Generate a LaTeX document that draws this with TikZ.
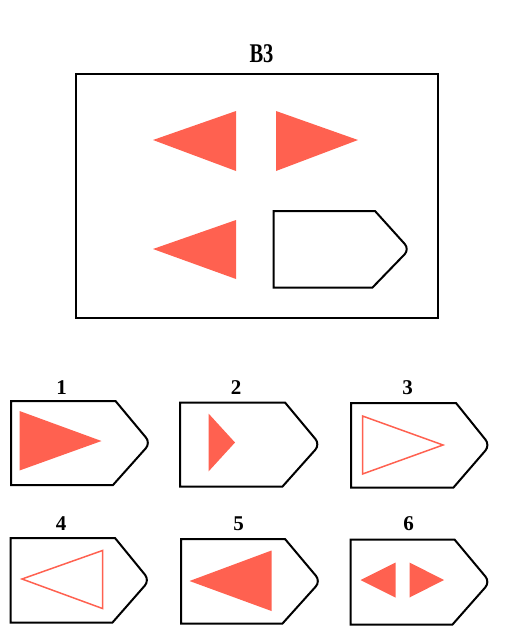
\documentclass[tikz,border=0pt]{standalone}
\usepackage{fontspec}
\setmainfont{Liberation Serif}
\usepackage{tikz}
\definecolor{coral}{RGB}{255,97,80}
\tikzset{
	frame/.style={draw=black,line width=1.3pt},
	flag/.style={draw=black,line width=2pt,line join=miter},
	solid tri/.style={fill=coral,draw=none},
	open tri/.style={draw=coral,line width=1.5pt,line join=miter},
	digit/.style={inner sep=0pt,font=\fontsize{21}{21}\selectfont\bfseries}
}
% left, top, top corner, bottom corner, tip, bottom
\newcommand{\optflag}[6]{
	\draw[flag] (#1,#2) -- (#3,#2) [rounded corners=7pt] -- (#5,{(#2+#6)/2}) [sharp corners] -- (#4,#6) -- (#1,#6) -- cycle;
}

\begin{document}
\begin{tikzpicture}[x=1pt,y=-1pt]
	\useasboundingbox (0,0) rectangle (513,627);
%	\draw[help lines,step=50] (0,0) grid (513,627);

	% the problem
	\node[inner sep=0pt,font=\fontsize{27}{27}\selectfont\bfseries] (title) at (261.5,54) {\scalebox{0.76}[1]{B3}};
	\draw[frame] (76,74) rectangle (438,318);
	\path (153,140) coordinate (tl);
	\path (358,140) coordinate (tr);
	\path (153,249) coordinate (bl);
	\fill[solid tri] (tl) -- (236,111) -- (236,171) -- cycle;
	\fill[solid tri] (tr) -- (276,111) -- (276,171) -- cycle;
	\fill[solid tri] (bl) -- (236,220) -- (236,279) -- cycle;
	\optflag{273.5}{211}{375}{372.5}{409.5}{287.5}

	% the answers
	\node[digit] (ans1) at (61.5,387.5) {1};
	\node[digit] (ans2) at (236,387.5) {2};
	\node[digit] (ans3) at (407.5,387.5) {3};
	\node[digit] (ans4) at (61,524) {4};
	\node[digit] (ans5) at (238.5,524) {5};
	\node[digit] (ans6) at (408.5,524) {6};

	\optflag{11}{401}{115.5}{113}{150.5}{485}
	\fill[solid tri] (19.5,411) -- (19.5,470.5) -- (101.5,441) -- cycle;

	\optflag{180}{402.5}{285}{282.5}{320}{486.5}
	\fill[solid tri] (208.5,413.5) -- (208.5,471.5) -- (235,442.5) -- cycle;

	\optflag{351}{403}{456}{453.5}{490}{487.5}
	\draw[open tri] (362.5,416) -- (362.5,474) -- (443,445) -- cycle;

	\optflag{10.5}{538}{115}{112.5}{149.5}{622.5}
	\draw[open tri] (22,579) -- (102.5,550.5) -- (102.5,608.5) -- cycle;

	\optflag{181}{539}{285}{282.5}{320.5}{623.5}
	\fill[solid tri] (189.5,581) -- (271.5,550.5) -- (271.5,611) -- cycle;

	\optflag{350.5}{539.5}{454.5}{452.5}{490}{624.5}
	\fill[solid tri] (360.5,580) -- (395.5,562.5) -- (395.5,597.5) -- cycle;
	\fill[solid tri] (444,580) -- (409.5,562.5) -- (409.5,597.5) -- cycle;
\end{tikzpicture}
\end{document}
